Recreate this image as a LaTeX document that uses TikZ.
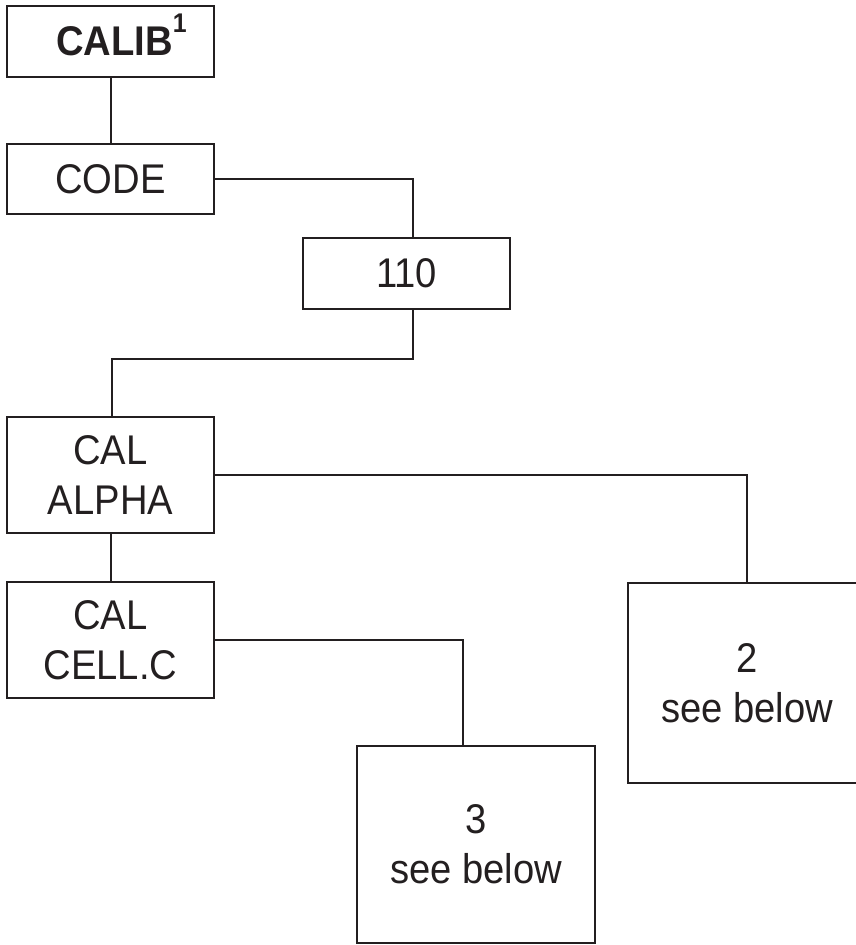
\documentclass[tikz,border=0pt]{standalone}
\usepackage{fontspec}
\setmainfont[FakeStretch=0.92]{Liberation Sans}
\usepackage{xcolor}
\usepackage{tikz}
\usetikzlibrary{positioning}
\definecolor{ink}{HTML}{231F20}

\begin{document}
\begin{tikzpicture}
            [
            x=1pt, y=-1pt,
            box/.style={rectangle,draw=ink,line width=2.2pt,inner sep=0pt,
                        minimum width=207pt,align=center,text=ink,
                        font=\fontsize{41.5}{50}\selectfont},
            edge/.style={draw=ink,line width=2pt}
            ]
        \useasboundingbox (0,0) rectangle (856,945);
        \node[box,minimum height=71pt] (calib) at (110.5,41.5) {\hspace*{22pt}\bfseries CALIB\smash{\raisebox{23pt}{\fontsize{27}{27}\selectfont 1}}};
        \node[box,minimum height=70pt] (code) at (110.5,179) {CODE};
        \node[box,minimum height=71pt] (c110) at (406.5,273.5) {110};
        \node[box,minimum height=116pt] (alpha) at (110.5,475) {CAL\\ALPHA};
        \node[box,minimum height=116pt] (cell) at (110.5,640) {CAL\\CELL.C};
        \node[box,minimum width=238pt,minimum height=200pt] (see2) at (747,683) {2\\see below};
        \node[box,minimum width=238pt,minimum height=197pt] (see3) at (476,844.5) {3\\see below};
        \draw[edge] (calib) -- (code);
        \draw[edge] (code.east) -| ([xshift=6.5pt]c110.north);
        \draw[edge] ([xshift=6.5pt]c110.south) -- ++(0,49) -| ([xshift=1.5pt]alpha.north);
        \draw[edge] (alpha.east) -| (see2.north);
        \draw[edge] (alpha) -- (cell);
        \draw[edge] (cell.east) -| ([xshift=-13pt]see3.north);
        \end{tikzpicture}
\end{document}
